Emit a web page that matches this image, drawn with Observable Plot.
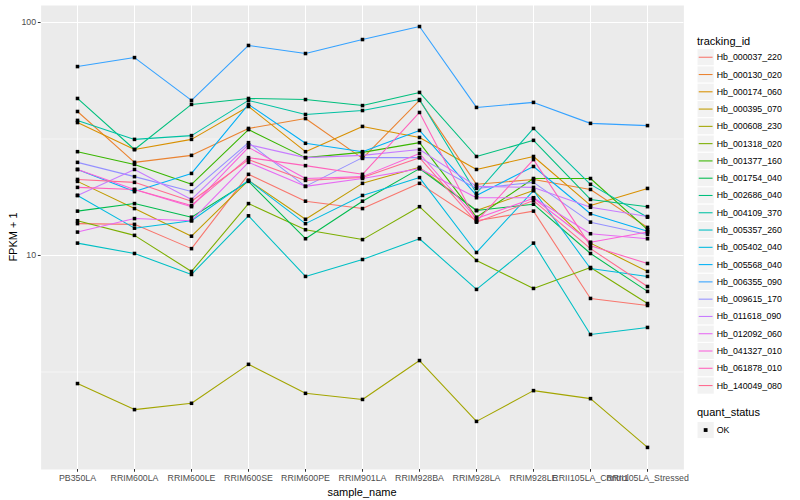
<!DOCTYPE html>
<html><head><meta charset="utf-8">
<script src="https://cdn.jsdelivr.net/npm/d3@7"></script>
<script src="https://cdn.jsdelivr.net/npm/@observablehq/plot@0.6"></script>
<style>
body{margin:0;background:#fff;}
#wrap{position:relative;width:800px;height:500px;font-family:"Liberation Sans",Arial,Helvetica,sans-serif;}
#wrap svg{position:absolute;left:0;top:0;}
</style></head><body><div id="wrap"></div>
<script>
const samples = ["PB350LA","RRIM600LA","RRIM600LE","RRIM600SE","RRIM600PE","RRIM901LA","RRIM928BA","RRIM928LA","RRIM928LE","RRII105LA_Control","RRII105LA_Stressed"];
const trackingIds = ["Hb_000037_220","Hb_000130_020","Hb_000174_060","Hb_000395_070","Hb_000608_230","Hb_001318_020","Hb_001377_160","Hb_001754_040","Hb_002686_040","Hb_004109_370","Hb_005357_260","Hb_005402_040","Hb_005568_040","Hb_006355_090","Hb_009615_170","Hb_011618_090","Hb_012092_060","Hb_041327_010","Hb_061878_010","Hb_140049_080"];
const colors = ["#F8766D","#EA8331","#D89000","#C09B00","#A3A500","#7CAE00","#39B600","#00BB4E","#00BF7D","#00C1A3","#00BFC4","#00BAE0","#00B0F6","#35A2FF","#9590FF","#C77CFF","#E76BF3","#FA62DB","#FF62BC","#FF6C91"];

const hb_000037_220 = [13.7, 13.6, 10.7, 22.3, 17.1, 15.9, 20.4, 14.1, 15.5, 6.54, 6.10];
const hb_000130_020 = [41.5, 25.1, 26.9, 35.1, 38.7, 26.1, 46.3, 20.2, 21.2, 19.2, 13.2];
const hb_000174_060 = [37.2, 28.5, 31.5, 43.6, 27.9, 35.8, 32.1, 23.4, 26.6, 16.4, 19.4];
const hb_000395_070 = [20.8, 15.9, 12.1, 21.0, 14.3, 20.4, 23.9, 15.6, 19.0, 11.3, 8.54];
const hb_000608_230 = [2.82, 2.18, 2.32, 3.41, 2.56, 2.41, 3.54, 1.94, 2.63, 2.43, 1.50];
const hb_001318_020 = [14.1, 12.2, 8.54, 16.7, 12.9, 11.7, 16.2, 9.52, 7.22, 8.88, 6.22];
const hb_001377_160 = [27.9, 24.6, 20.2, 34.7, 26.3, 27.7, 30.5, 14.6, 21.4, 21.4, 12.9];
const hb_001754_040 = [15.5, 16.7, 14.6, 20.8, 11.8, 17.1, 23.6, 15.6, 16.6, 10.2, 7.01];
const hb_002686_040 = [47.2, 28.5, 44.5, 47.2, 46.7, 44.0, 50.1, 26.6, 31.2, 17.4, 16.2];
const hb_004109_370 = [38.0, 31.5, 32.7, 46.3, 40.3, 41.9, 46.7, 18.5, 35.1, 20.2, 14.6];
const hb_005357_260 = [11.3, 10.2, 8.29, 14.8, 8.13, 9.61, 11.8, 7.15, 11.3, 4.58, 4.91];
const hb_005402_040 = [18.1, 13.1, 14.1, 21.0, 13.7, 18.1, 21.6, 10.3, 19.0, 8.79, 8.13];
const hb_005568_040 = [23.4, 18.8, 22.5, 44.5, 30.3, 27.9, 34.4, 18.1, 24.1, 15.1, 12.7];
const hb_006355_090 = [64.7, 70.7, 46.3, 79.7, 73.6, 84.5, 96.1, 43.2, 45.4, 36.9, 36.1];
const hb_009615_170 = [25.1, 21.8, 18.8, 30.5, 19.8, 26.3, 26.3, 19.4, 20.6, 13.9, 12.3];
const hb_011618_090 = [18.1, 23.4, 17.4, 29.9, 26.3, 26.9, 28.5, 19.8, 19.6, 16.1, 14.7];
const hb_012092_060 = [12.6, 14.4, 14.1, 25.1, 19.8, 21.4, 23.6, 17.7, 17.7, 12.4, 11.8];
const hb_041327_010 = [23.4, 19.2, 16.2, 29.1, 21.4, 21.8, 27.4, 14.4, 17.6, 11.4, 12.6];
const hb_061878_010 = [19.6, 19.2, 16.4, 26.3, 24.3, 22.3, 41.1, 14.0, 25.8, 11.0, 9.24];
const hb_140049_080 = [21.2, 20.6, 17.1, 25.8, 21.0, 21.6, 26.3, 13.9, 17.2, 10.7, 7.36];

const yTicks = [10, 100];
const yMinorBreaks = [3.1623, 31.623];
const yDomain = [1.206, 118.3];
const quantStatus = ["OK"];

const seriesValues = [hb_000037_220,hb_000130_020,hb_000174_060,hb_000395_070,hb_000608_230,hb_001318_020,hb_001377_160,hb_001754_040,hb_002686_040,hb_004109_370,hb_005357_260,hb_005402_040,hb_005568_040,hb_006355_090,hb_009615_170,hb_011618_090,hb_012092_060,hb_041327_010,hb_061878_010,hb_140049_080];
const rows = trackingIds.flatMap((id, i) => samples.map((s, j) => ({id, sample: s, value: seriesValues[i][j]})));

const font = '"Liberation Sans",Arial,Helvetica,sans-serif';
const W = 800, H = 500, mL = 40.6, mR = 116.6, mT = 5, mB = 31;

const chart = Plot.plot({
  width: W, height: H,
  marginLeft: mL, marginRight: mR, marginTop: mT, marginBottom: mB,
  style: {fontFamily: font, fontSize: "8.8px", background: "white"},
  x: {type: "point", domain: samples, padding: 0.6, label: null},
  y: {type: "log", domain: yDomain, label: null},
  color: {domain: trackingIds, range: colors},
  marks: [
    Plot.frame({fill: "#EBEBEB", stroke: "none"}),
    Plot.ruleY(yMinorBreaks, {stroke: "white", strokeWidth: 0.53}),
    Plot.ruleY(yTicks, {stroke: "white", strokeWidth: 1.07}),
    Plot.ruleX(samples, {stroke: "white", strokeWidth: 1.07}),
    Plot.line(rows, {x: "sample", y: "value", z: "id", stroke: "id", strokeWidth: 1.07}),
    Plot.dot(rows, {x: "sample", y: "value", symbol: "square", r: 2, fill: "black", stroke: "none"}),
    Plot.axisY(yTicks, {tickSize: 2.75, tickPadding: 2.2, stroke: "#333333", fill: "#4D4D4D", label: null, tickFormat: d => String(d), fontSize: 8.8}),
    Plot.axisX({tickSize: 2.75, tickPadding: 2.2, stroke: "#333333", fill: "#4D4D4D", label: null, fontSize: 8.8})
  ]
});
const wrap = document.getElementById("wrap");
wrap.appendChild(chart);

// overlay: axis titles and legend
const ov = d3.create("svg").attr("width", W).attr("height", H)
  .style("font-family", font).style("pointer-events", "none");
ov.append("text").attr("transform", `translate(13,${(mT + H - mB) / 2}) rotate(-90)`)
  .attr("text-anchor", "middle").attr("dominant-baseline", "central")
  .attr("font-size", 11).attr("fill", "black").text("FPKM + 1");
ov.append("text").attr("x", (mL + W - mR) / 2).attr("y", 491.5)
  .attr("text-anchor", "middle").attr("dominant-baseline", "central")
  .attr("font-size", 11).attr("fill", "black").text("sample_name");

const lgX = 697, key = 17.28, lgTop = 48.6;
ov.append("text").attr("x", lgX).attr("y", 40.5).attr("dominant-baseline", "central")
  .attr("font-size", 11).attr("fill", "black").text("tracking_id");
trackingIds.forEach((id, i) => {
  const y0 = lgTop + i * key;
  ov.append("rect").attr("x", lgX).attr("y", y0).attr("width", key).attr("height", key)
    .attr("fill", "#F2F2F2").attr("stroke", "white").attr("stroke-width", 1);
  ov.append("line").attr("x1", lgX + key * 0.1).attr("x2", lgX + key * 0.9)
    .attr("y1", y0 + key / 2).attr("y2", y0 + key / 2)
    .attr("stroke", colors[i]).attr("stroke-width", 1.07);
  ov.append("text").attr("x", lgX + key + 2.5).attr("y", y0 + key / 2)
    .attr("dominant-baseline", "central").attr("font-size", 8.8).attr("fill", "black").text(id);
});
ov.append("text").attr("x", lgX).attr("y", 411.7).attr("dominant-baseline", "central")
  .attr("font-size", 11).attr("fill", "black").text("quant_status");
quantStatus.forEach((q, i) => {
  const y0 = 421.4 + i * key;
  ov.append("rect").attr("x", lgX).attr("y", y0).attr("width", key).attr("height", key)
    .attr("fill", "#F2F2F2").attr("stroke", "white").attr("stroke-width", 1);
  ov.append("rect").attr("x", lgX + key / 2 - 1.9).attr("y", y0 + key / 2 - 1.9)
    .attr("width", 3.8).attr("height", 3.8).attr("fill", "black");
  ov.append("text").attr("x", lgX + key + 2.5).attr("y", y0 + key / 2)
    .attr("dominant-baseline", "central").attr("font-size", 8.8).attr("fill", "black").text(q);
});
wrap.appendChild(ov.node());
</script></body></html>
